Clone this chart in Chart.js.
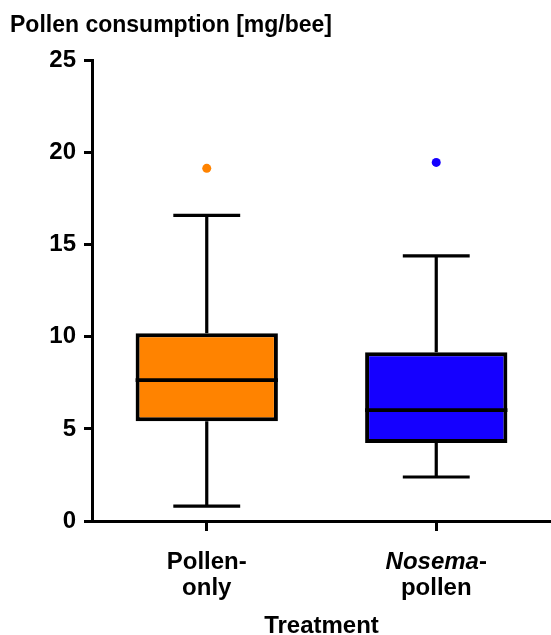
<!DOCTYPE html>
<html><head><meta charset="utf-8">
<script src="https://cdn.jsdelivr.net/npm/chart.js@4"></script>
<style>html,body{margin:0;padding:0;background:#fff;overflow:hidden}#wrap{width:551px;height:635px;position:relative}</style>
</head><body><div id="wrap"><canvas id="c"></canvas></div>
<script>
// ---- data ----
const categories = ['Pollen-only', 'Nosema-pollen'];
// label parts: [line][segment] = [text, italic]
const categoryLabelParts = [
  [[['Pollen-', false]], [['only', false]]],
  [[['Nosema', true], ['-', false]], [['pollen', false]]]
];
const q1 = [5.42, 4.23];
const median = [7.65, 6.02];
const q3 = [10.2, 9.16];
const whiskerLow = [0.81, 2.39];
const whiskerHigh = [16.6, 14.4];
const outliers = [19.15, 19.47];
const boxColors = ['#FF8300', '#1500FF'];
const yTicks = [0, 5, 10, 15, 20, 25];

const FONT = "'Liberation Sans', Arial, sans-serif";

const boxPlugin = {
  id: 'boxParts',
  beforeDatasetsDraw(chart) {
    const ctx = chart.ctx, y = chart.scales.y;
    const meta = chart.getDatasetMeta(0);
    ctx.save();
    ctx.strokeStyle = '#000';
    ctx.lineWidth = 3.2;
    ctx.lineCap = 'butt';
    meta.data.forEach((bar, i) => {
      const x = bar.x, w = bar.width * 0.47;
      const yH = y.getPixelForValue(whiskerHigh[i]);
      const yL = y.getPixelForValue(whiskerLow[i]);
      const y3 = y.getPixelForValue(q3[i]);
      const y1 = y.getPixelForValue(q1[i]);
      ctx.beginPath();
      ctx.moveTo(x, yH); ctx.lineTo(x, y3);
      ctx.moveTo(x, y1); ctx.lineTo(x, yL);
      ctx.moveTo(x - w / 2, yH); ctx.lineTo(x + w / 2, yH);
      ctx.moveTo(x - w / 2, yL); ctx.lineTo(x + w / 2, yL);
      ctx.stroke();
    });
    ctx.restore();
  },
  afterDatasetsDraw(chart) {
    const ctx = chart.ctx, y = chart.scales.y;
    const meta = chart.getDatasetMeta(0);
    ctx.save();
    ctx.strokeStyle = '#000';
    ctx.lineWidth = 3.6;
    meta.data.forEach((bar, i) => {
      const ym = y.getPixelForValue(median[i]);
      ctx.beginPath();
      ctx.moveTo(bar.x - bar.width / 2, ym);
      ctx.lineTo(bar.x + bar.width / 2, ym);
      ctx.stroke();
    });
    ctx.restore();
  },
  afterDraw(chart) {
    const ctx = chart.ctx, xs = chart.scales.x;
    const o = xs.options;
    const size = 24, lineH = 26;
    const y0 = xs.top + o.grid.tickLength + 2 * o.ticks.padding;
    ctx.save();
    ctx.fillStyle = '#000';
    ctx.textBaseline = 'middle';
    ctx.textAlign = 'left';
    categoryLabelParts.forEach((lines, i) => {
      const cx = xs.getPixelForTick(i);
      lines.forEach((segs, li) => {
        let total = 0;
        const widths = segs.map(([t, it]) => {
          ctx.font = (it ? 'italic ' : '') + 'bold ' + size + 'px ' + FONT;
          const w = ctx.measureText(t).width; total += w; return w;
        });
        let x = cx - total / 2;
        const yy = y0 + lineH * (li + 0.5);
        segs.forEach(([t, it], si) => {
          ctx.font = (it ? 'italic ' : '') + 'bold ' + size + 'px ' + FONT;
          ctx.fillText(t, x, yy);
          x += widths[si];
        });
      });
    });
    ctx.restore();
  }
};

new Chart(document.getElementById('c'), {
  type: 'bar',
  data: {
    labels: categories.map(c => c.split('-').map((s, k, a) => k < a.length - 1 ? s + '-' : s)),
    datasets: [{
      type: 'bar',
      data: q1.map((v, i) => [v, q3[i]]),
      backgroundColor: boxColors,
      borderColor: '#000',
      borderWidth: 4,
      borderSkipped: false,
      barPercentage: 0.62,
      categoryPercentage: 1,
      order: 2
    }, {
      type: 'line',
      data: outliers,
      showLine: false,
      pointRadius: 4.5,
      pointBorderWidth: 0,
      pointBackgroundColor: boxColors,
      order: 1
    }]
  },
  plugins: [boxPlugin],
  options: {
    responsive: true,
    maintainAspectRatio: false,
    animation: false,
    layout: { autoPadding: false, padding: { left: 10, right: 0, top: 0, bottom: 0 } },
    plugins: {
      legend: { display: false },
      tooltip: { enabled: false },
      title: {
        display: true,
        text: 'Pollen consumption [mg/bee]',
        align: 'start',
        color: '#000',
        font: { family: FONT, size: 23, weight: 'bold', lineHeight: 1.2 },
        padding: { top: 12, bottom: 21 }
      }
    },
    scales: {
      x: {
        type: 'category',
        offset: true,
        grid: { display: true, drawOnChartArea: false, drawTicks: true, tickLength: 10, color: '#000', lineWidth: 3, offset: false },
        border: { display: true, color: '#000', width: 3 },
        ticks: { color: 'rgba(0,0,0,0)', padding: 9, font: { family: FONT, size: 24, weight: 'bold', lineHeight: 1.0833 }, maxRotation: 0, autoSkip: false },
        title: { display: true, text: 'Treatment', color: '#000', font: { family: FONT, size: 24, weight: 'bold', lineHeight: 1 }, padding: { top: 13, bottom: -3 } }
      },
      y: {
        min: 0,
        max: 25,
        afterFit(scale) { scale.width = 82; },
        afterBuildTicks(scale) { scale.ticks = yTicks.map(v => ({ value: v })); },
        grid: { display: true, drawOnChartArea: false, drawTicks: true, tickLength: 8, color: '#000', lineWidth: 3 },
        border: { display: true, color: '#000', width: 3 },
        ticks: { color: '#000', padding: 8, font: { family: FONT, size: 24, weight: 'bold' } }
      }
    }
  }
});
</script>
</body></html>
